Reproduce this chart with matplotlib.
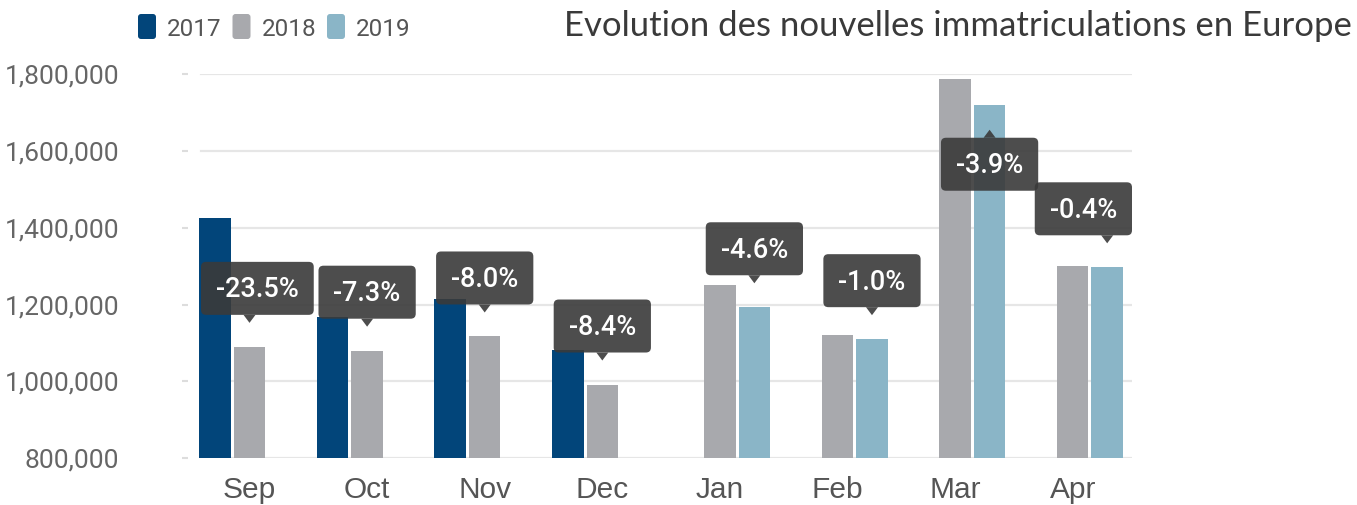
import numpy as np
import matplotlib.pyplot as plt
import matplotlib.transforms as mtransforms
from matplotlib.patches import FancyBboxPatch, Polygon

months = ['Sep', 'Oct', 'Nov', 'Dec', 'Jan', 'Feb', 'Mar', 'Apr']
years = ['2017', '2018', '2019']
v2017 = [1424000, 1167000, 1214000, 1082000, np.nan, np.nan, np.nan, np.nan]
v2018 = [1090000, 1080000, 1117000, 992000, 1250000, 1121000, 1787000, 1301000]
v2019 = [np.nan, np.nan, np.nan, np.nan, 1193000, 1110000, 1720000, 1297000]
changes = ['-23.5%', '-7.3%', '-8.0%', '-8.4%', '-4.6%', '-1.0%', '-3.9%', '-0.4%']
yticks = [800000, 1000000, 1200000, 1400000, 1600000, 1800000]
title = 'Evolution des nouvelles immatriculations en Europe'

colors = ['#02457a', '#a8a9ad', '#8ab5c7']
W, H = 1357, 505

fig = plt.figure(figsize=(W / 100, H / 100), dpi=100)
ax = fig.add_axes([182 / W, (H - 458.3) / H, (1132 - 182) / W, 384.3 / H])

x = np.arange(len(months))
bw = 0.268
off = 0.293
for vals, dx, c in zip([v2017, v2018, v2019], [-off, 0, off], colors):
    ax.bar(x + dx, vals, bw, color=c, zorder=2)

ax.set_xlim(-0.574, 7.504)
ax.set_ylim(800000, 1800000)

grid_x0 = (201 - 182) / (1132 - 182)
for t in yticks:
    ax.axhline(t, xmin=grid_x0, xmax=1, color='#e6e6e6', lw=1.6, zorder=0)

for s in ax.spines.values():
    s.set_visible(False)
ax.set_yticks(yticks)
ax.set_yticklabels([f'{t:,}' for t in yticks], fontfamily='Roboto')
ax.tick_params(axis='y', direction='in', length=4, width=1.5, color='#dddddd',
               pad=45, labelsize=19, labelcolor='#666666')
ax.set_xticks(x)
ax.set_xticklabels(months, fontfamily='Liberation Sans')
ax.tick_params(axis='x', length=0, pad=12.5, labelsize=21.5, labelcolor='#555555')

# data labels (callouts)
fig.canvas.draw()
renderer = fig.canvas.get_renderer()
grid_left = ax.transAxes.transform((grid_x0, 0))[0]
ax_right, ax_top = ax.transAxes.transform((1, 1))
box_h = 53
gap = 22
tri_h = 8
for i, txt in enumerate(changes):
    if np.isnan(v2019[i]):
        xc, top = x[i], v2018[i]
    else:
        xc, top = x[i] + off, v2019[i]
    px, py = ax.transData.transform((xc, top))
    trans = mtransforms.Affine2D() + mtransforms.ScaledTranslation(xc, top, ax.transData)

    t = ax.text(0, 0, txt, transform=trans, ha='center', va='baseline',
                color='white', fontsize=19.5, fontfamily='Roboto',
                fontweight='medium', zorder=6)
    tw = t.get_window_extent(renderer).width
    bw_px = tw + 30

    up = py + gap + tri_h + box_h <= ax_top
    if up:
        g = gap + 2
        y0 = g + tri_h
        tri = [(-6, y0), (6, y0), (0, g)]
    else:
        g = -gap - 3
        y0 = g - tri_h - box_h
        tri = [(-6, y0 + box_h), (6, y0 + box_h), (0, g)]

    left = -bw_px / 2
    if px + left < grid_left:
        left = grid_left - px
    if px + left + bw_px > ax_right:
        left = ax_right - px - bw_px

    box = FancyBboxPatch((left, y0), bw_px, box_h,
                         boxstyle='round,pad=0,rounding_size=5',
                         transform=trans, fc='#3a3a3a', ec='none', alpha=0.9,
                         zorder=5, clip_on=False)
    ax.add_patch(box)
    ax.add_patch(Polygon(tri, closed=True, transform=trans, fc='#3a3a3a',
                         ec='none', alpha=0.9, zorder=5, clip_on=False))
    t.set_position((left + bw_px / 2, y0 + box_h / 2 - 9))

# legend
ident = mtransforms.IdentityTransform()
for k, (yr, c) in enumerate(zip(years, colors)):
    x0 = 138 + k * 94.5
    fig.add_artist(FancyBboxPatch((x0, H - 39), 18, 25,
                                  boxstyle='round,pad=0,rounding_size=3',
                                  transform=ident, fc=c, ec='none'))
    fig.text(x0 + 29, H - 36.5, yr, transform=ident, ha='left', va='baseline',
             fontsize=17.5, color='#555555', fontfamily='Roboto')

ttl = fig.text(1352, H - 36, title, transform=ident, ha='right', va='baseline',
               fontsize=22, color='#3a3a3a', fontfamily='Lato')
fig.canvas.draw()
tw = ttl.get_window_extent(fig.canvas.get_renderer()).width
ttl.set_fontsize(22 * 785 / tw)

fig.savefig('out.png', dpi=100)
